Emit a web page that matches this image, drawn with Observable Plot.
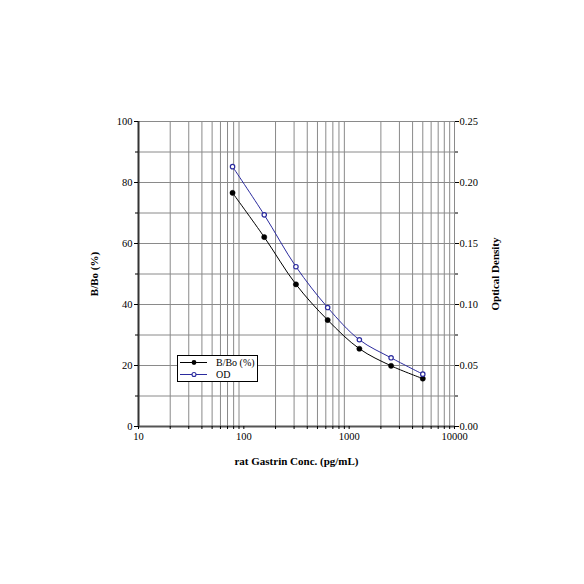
<!DOCTYPE html>
<html>
<head>
<meta charset="utf-8">
<script src="https://cdn.jsdelivr.net/npm/d3@7"></script>
<script src="https://cdn.jsdelivr.net/npm/@observablehq/plot@0.6"></script>
<style>
  html, body { margin: 0; padding: 0; background: #fff; }
  #wrap { position: relative; width: 584px; height: 584px; font-family: "Liberation Serif", serif; }
  #legend { position: absolute; left: 177px; top: 355px; width: 81px; height: 27px; border: 1px solid #000; background: #fff; box-sizing: border-box; font-size: 10px; }
  #legend .row { position: absolute; left: 0; height: 11px; display: flex; align-items: center; }
  #legend svg { display: block; }
  #legend span { margin-left: 9px; line-height: 11px; }
</style>
</head>
<body>
<div id="wrap"></div>
<script>
// Data
const conc = [78.125, 156.25, 312.5, 625, 1250, 2500, 5000];
const bbo = [76.6, 62.1, 46.6, 34.9, 25.5, 19.9, 15.7];
const od = [0.213, 0.1735, 0.131, 0.0975, 0.0711, 0.0563, 0.0429];
const xTicks = [10, 100, 1000, 10000];
const yTicks = [0, 20, 40, 60, 80, 100];
const yMinor = [10, 30, 50, 70, 90];
const odTickLabels = ["0.00", "0.05", "0.10", "0.15", "0.20", "0.25"];
const seriesNames = ["B/Bo (%)", "OD"];
const odToPct = 400; // 0.25 OD spans the same height as 100 %

const xGrid = [];
for (let d = 10; d < 10000; d *= 10) for (let k = 2; k <= 9; k++) xGrid.push(k * d);
const yGrid = [10, 20, 30, 40, 50, 60, 70, 80, 90];

const rowsB = conc.map((c, i) => ({c, v: bbo[i]}));
const rowsO = conc.map((c, i) => ({c, v: od[i] * odToPct}));

const black = "#000";
const blue = "#2b2b9e";
const grid = "#8a8a8a";
const blank = () => "";

const chart = Plot.plot({
  width: 584,
  height: 584,
  marginLeft: 138,
  marginRight: 130,
  marginTop: 121,
  marginBottom: 158,
  style: {fontFamily: "Liberation Serif, serif", fontSize: "10.5px", color: "#000", background: "#fff"},
  x: {type: "log", domain: [10, 10000]},
  y: {domain: [0, 100]},
  marks: [
    Plot.ruleX(xGrid, {stroke: grid, strokeWidth: 1}),
    Plot.ruleY(yGrid, {stroke: grid, strokeWidth: 1}),
    Plot.frame({stroke: grid, strokeWidth: 1}),
    Plot.ruleX([10], {stroke: "#333", strokeWidth: 2}),
    Plot.ruleY([0], {stroke: "#555", strokeWidth: 2}),
    // bottom axis
    Plot.axisX({ticks: xTicks, tickFormat: d => String(d), tickSize: 3, tickPadding: 3, label: null}),
    Plot.axisX({ticks: xGrid, tickFormat: blank, tickSize: 3, label: null}),
    Plot.axisX({ticks: [], label: "rat Gastrin Conc. (pg/mL)", labelAnchor: "center", labelArrow: "none", labelOffset: 38, fontWeight: "bold", fontSize: 11}),
    // left axis
    Plot.axisY({ticks: yTicks, tickFormat: d => String(d), tickSize: 4, tickPadding: 2, label: null}),
    Plot.axisY({ticks: yMinor, tickFormat: blank, tickSize: 3, label: null}),
    Plot.axisY({ticks: [], label: "B/Bo (%)", labelAnchor: "center", labelArrow: "none", labelOffset: 48, fontWeight: "bold", fontSize: 11}),
    // right axis (Optical Density)
    Plot.axisY({anchor: "right", ticks: yTicks, tickFormat: d => odTickLabels[yTicks.indexOf(d)], tickSize: 4, tickPadding: 1, label: null}),
    Plot.axisY({anchor: "right", ticks: yMinor, tickFormat: blank, tickSize: 3, label: null}),
    Plot.axisY({anchor: "right", ticks: [], label: "Optical Density", labelAnchor: "center", labelArrow: "none", labelOffset: 44, fontWeight: "bold", fontSize: 11}),
    // series
    Plot.line(rowsB, {x: "c", y: "v", stroke: black, strokeWidth: 1, curve: "catmull-rom"}),
    Plot.line(rowsO, {x: "c", y: "v", stroke: blue, strokeWidth: 1, curve: "catmull-rom"}),
    Plot.dot(rowsB, {x: "c", y: "v", r: 2.6, fill: black, stroke: black, strokeWidth: 0.5}),
    Plot.dot(rowsO, {x: "c", y: "v", r: 2.2, fill: "#fff", stroke: blue, strokeWidth: 1.2})
  ]
});

const wrap = document.getElementById("wrap");
wrap.appendChild(chart);

// legend
const legend = document.createElement("div");
legend.id = "legend";
const sym = [
  `<svg width="29" height="11"><line x1="2" y1="5.5" x2="29" y2="5.5" stroke="${black}" stroke-width="1"/><circle cx="16" cy="5.5" r="2.4" fill="${black}"/></svg>`,
  `<svg width="29" height="11"><line x1="2" y1="5.5" x2="29" y2="5.5" stroke="${blue}" stroke-width="1"/><circle cx="16" cy="5.5" r="2" fill="#fff" stroke="${blue}" stroke-width="1.1"/></svg>`
];
seriesNames.forEach((name, i) => {
  const row = document.createElement("div");
  row.className = "row";
  row.style.top = (1 + i * 11.5) + "px";
  row.innerHTML = sym[i] + `<span>${name}</span>`;
  legend.appendChild(row);
});
wrap.appendChild(legend);
</script>
</body>
</html>
